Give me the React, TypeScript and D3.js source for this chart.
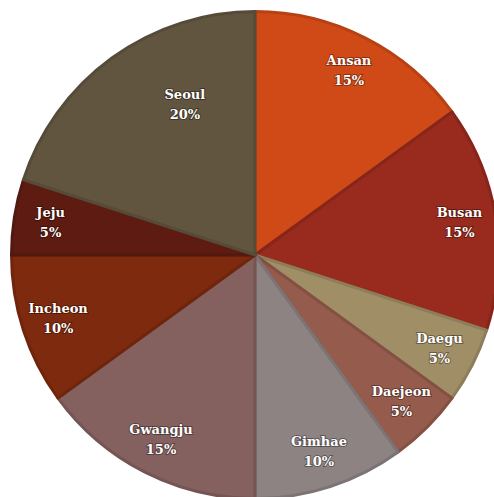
import React from "react";
import * as d3 from "d3";

const categories = ["Ansan", "Busan", "Daegu", "Daejeon", "Gimhae", "Gwangju", "Incheon", "Jeju", "Seoul"];
const values = [15, 15, 5, 5, 10, 15, 10, 5, 20];
const colors = ["#D04A17", "#982A1E", "#A08E67", "#955B4C", "#8D8383", "#84605F", "#7E2A0E", "#5E1B12", "#615540"];

const W = 494;
const H = 497;
const CX = 255;
const CY = 255;
const R = 245;
const LABEL_R = 207;
// polar label placement overrides (radius px, angle degrees clockwise from top)
const labelOverride: Record<string, { r: number; deg: number }> = { Seoul: { r: 166, deg: 335 } };

export default function App() {
  const data = categories.map((c, i) => ({ name: c, value: values[i], color: colors[i] }));
  const pie = d3.pie<any>().value((d: any) => d.value).sort(null);
  const arcs = pie(data);
  const arc = d3.arc<any>().innerRadius(0).outerRadius(R - 1.5);
  const total = d3.sum(values);
  return (
    <svg width={W} height={H} style={{ position: "absolute", left: 0, top: 0 }}>
      <g transform={`translate(${CX},${CY})`}>
        {arcs.map((a, i) => (
          <path
            key={i}
            d={arc(a) as string}
            fill={a.data.color}
            stroke={d3.color(a.data.color)!.darker(0.35).toString()}
            strokeWidth={3}
            strokeLinejoin="round"
          />
        ))}
        {arcs.map((a, i) => {
          const ov = labelOverride[a.data.name];
          let x: number, y: number;
          if (ov) {
            const t = (ov.deg * Math.PI) / 180;
            x = ov.r * Math.sin(t);
            y = -ov.r * Math.cos(t);
          } else {
            const lab = d3.arc<any>().innerRadius(LABEL_R).outerRadius(LABEL_R);
            [x, y] = lab.centroid(a);
          }
          return (
            <text
              key={"t" + i}
              x={x}
              y={y}
              textAnchor="middle"
              fill="#fff"
              stroke="rgba(0,0,0,0.35)"
              strokeWidth={2}
              paintOrder="stroke"
              fontFamily="'DejaVu Serif', serif"
              fontWeight="bold"
              fontSize={13}
            >
              <tspan x={x} dy={-5.5}>{a.data.name}</tspan>
              <tspan x={x} dy={20}>{`${Math.round((a.data.value / total) * 100)}%`}</tspan>
            </text>
          );
        })}
      </g>
    </svg>
  );
}
